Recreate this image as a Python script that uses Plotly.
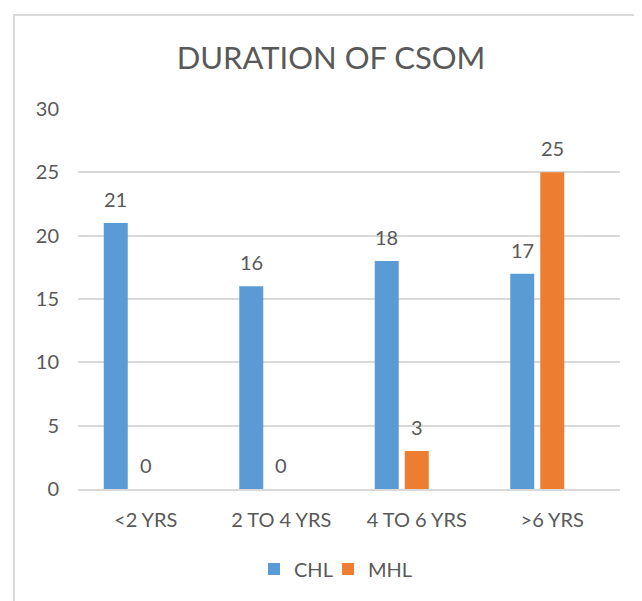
import plotly.graph_objects as go

categories = ["<2 YRS", "2 TO 4 YRS", "4 TO 6 YRS", ">6 YRS"]
chl = [21, 16, 18, 17]
mhl = [0, 0, 3, 25]
series_names = ["CHL", "MHL"]
colors = ["#5B9BD5", "#ED7D31"]

# the page body adds an 8px margin; figure coordinates below are page - 8
OFF = 8
W, H = 642, 601
L, T = 78 - OFF, 109 - OFF
plot_w = 620 - 78
plot_h = 489 - 109
R = W - L - plot_w
B = H - T - plot_h

bar_px = 24
slot_px = 30
cat_px = plot_w / len(categories)
bw = bar_px / cat_px
offsets = [-(slot_px + bar_px / 2) / cat_px, -(bar_px / 2) / cat_px]
shifts = [-slot_px, 0]
legend_ids = ["legend", "legend2"]
legend_left_px = [254, 328]

font = "Lato, 'Open Sans', sans-serif"
txt = "#595959"


def px_x(page_x):
    return (page_x - OFF - L) / plot_w


def px_y(page_y):
    return (T + plot_h - (page_y - OFF)) / plot_h


fig = go.Figure()
for name, vals, col, off, lg in zip(series_names, [chl, mhl], colors, offsets, legend_ids):
    fig.add_trace(go.Bar(
        x=categories, y=vals, name=name, legend=lg,
        marker=dict(color=col, line=dict(width=0)),
        width=[bw] * len(vals), offset=[off] * len(vals),
    ))

annotations = []
for vals, sh in zip([chl, mhl], shifts):
    for c, v in zip(categories, vals):
        annotations.append(dict(
            x=c, y=v, xref="x", yref="y", text=str(v), showarrow=False,
            xshift=sh, yshift=24, yanchor="middle",
            font=dict(family=font, size=20, color=txt),
        ))

legend_style = dict(orientation="h", xanchor="left", yanchor="middle",
                    y=px_y(569), font=dict(family=font, size=20, color=txt),
                    bgcolor="rgba(0,0,0,0)")

fig.update_layout(
    width=W, height=H,
    margin=dict(l=L, r=R, t=T, b=B),
    paper_bgcolor="white", plot_bgcolor="white",
    font=dict(family=font, size=20, color=txt),
    title=dict(text="DURATION OF CSOM", x=(331 - OFF) / W, xanchor="center",
               y=1 - (58.5 - OFF) / H, yanchor="middle",
               font=dict(family=font, size=31, color=txt)),
    showlegend=True,
    legend=dict(x=px_x(legend_left_px[0]), **legend_style),
    legend2=dict(x=px_x(legend_left_px[1]), **legend_style),
    annotations=annotations,
)
fig.update_yaxes(range=[0, 30], dtick=5, showgrid=True, gridcolor="#D9D9D9", gridwidth=1.5,
                 zeroline=False, showline=False,
                 ticks="outside", ticklen=14, tickcolor="rgba(0,0,0,0)",
                 tickfont=dict(family=font, size=20, color=txt), fixedrange=True)
fig.update_xaxes(showgrid=False, showline=True, linecolor="#D9D9D9", linewidth=1.5,
                 ticks="outside", ticklen=12, tickcolor="rgba(0,0,0,0)",
                 tickfont=dict(family=font, size=20, color=txt), fixedrange=True)

fig.add_shape(type="rect", xref="paper", yref="paper",
              x0=px_x(14), x1=px_x(W + 30),
              y0=px_y(H + 30), y1=px_y(15),
              line=dict(color="#D9D9D9", width=2), fillcolor="rgba(0,0,0,0)", layer="below")

fig.write_html("out.html")
